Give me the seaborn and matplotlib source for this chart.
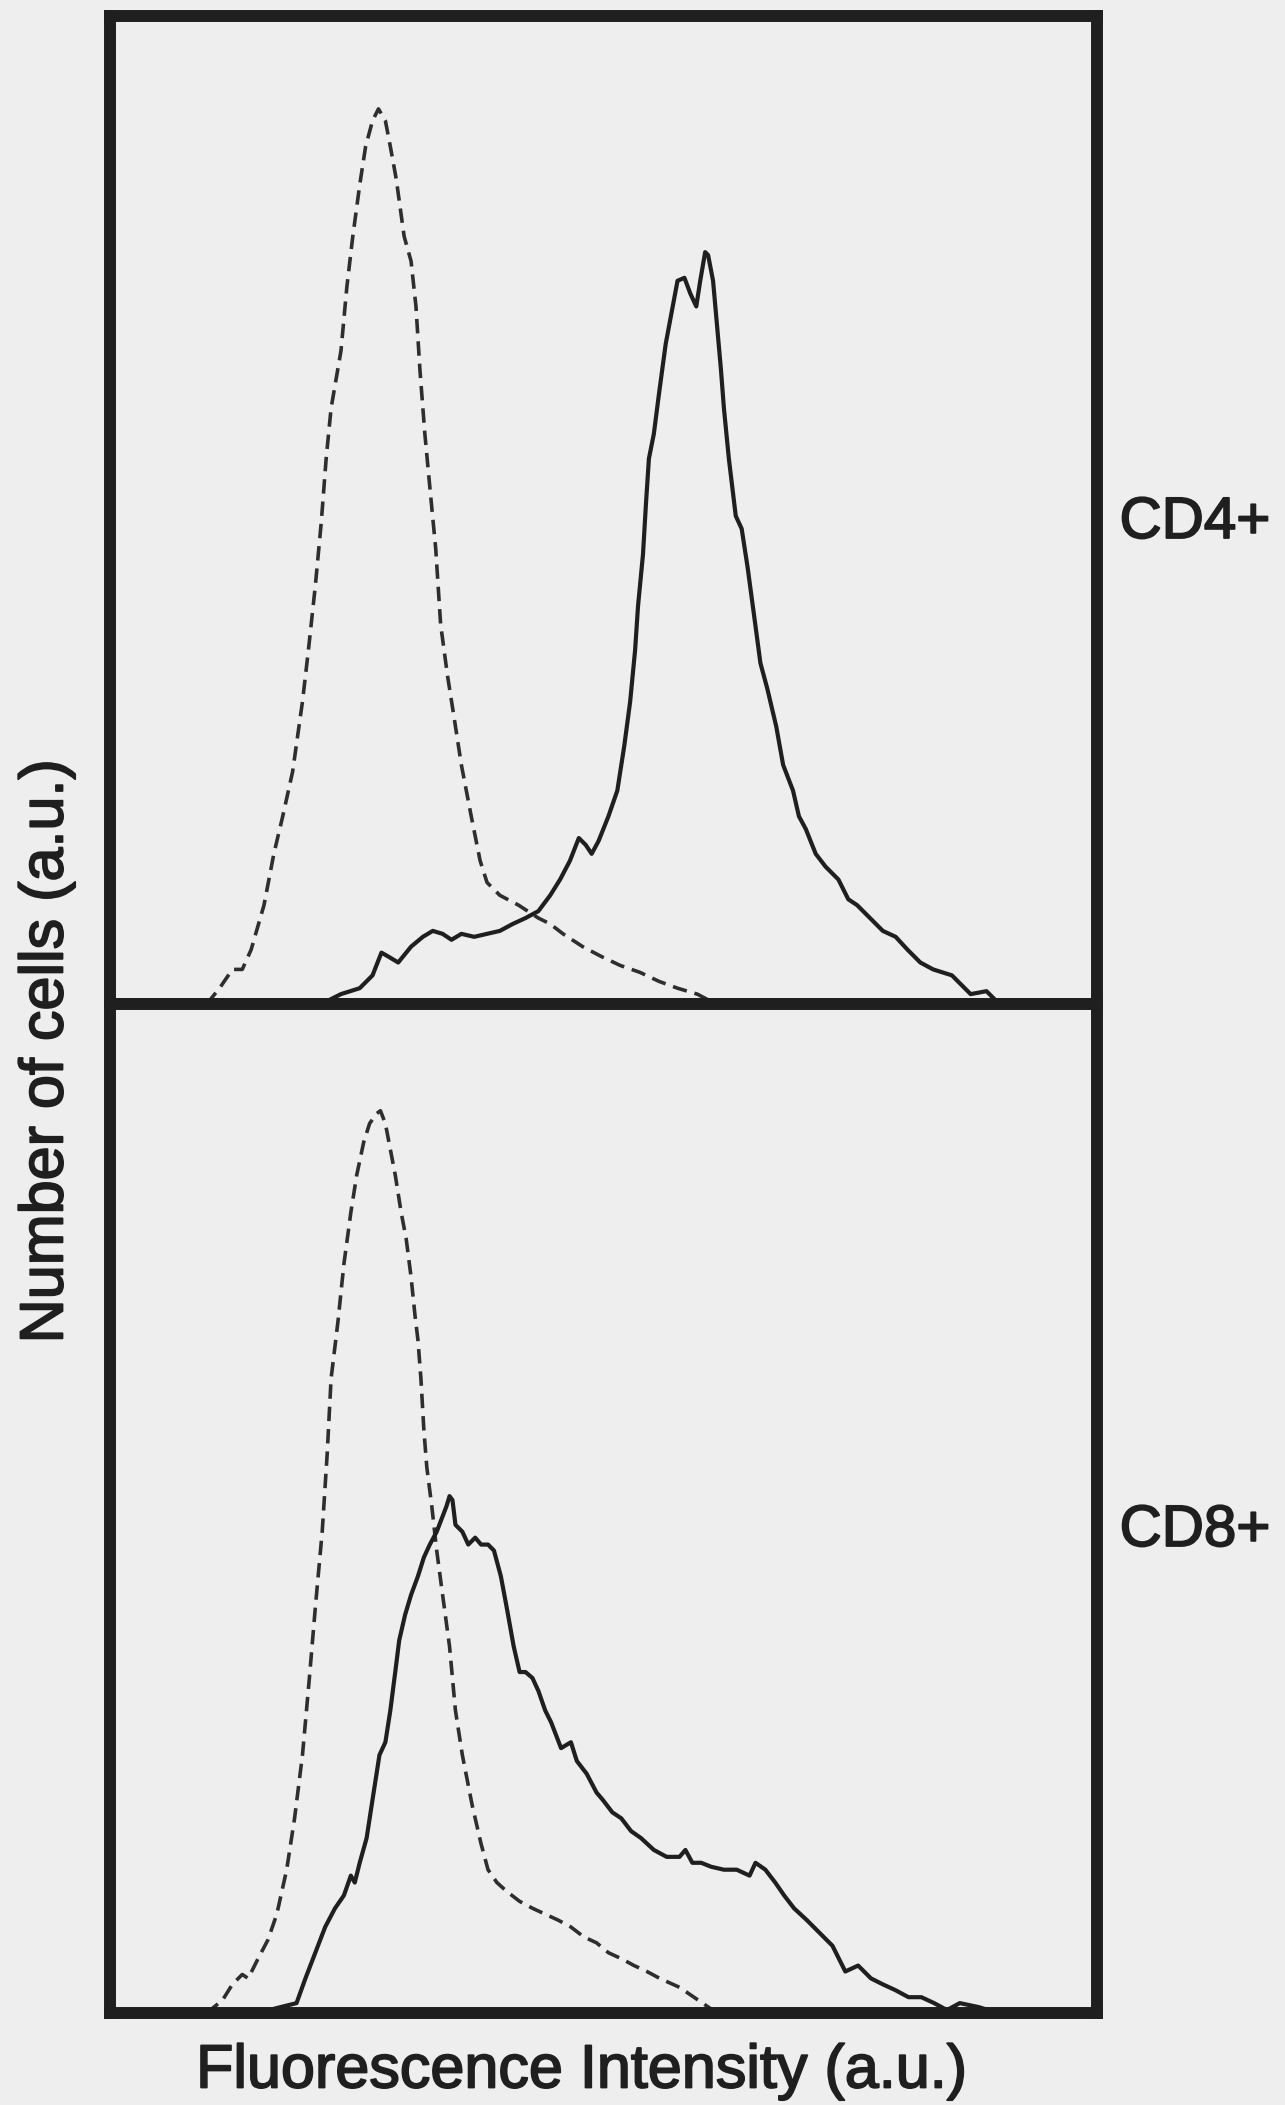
import numpy as np
import pandas as pd
import seaborn as sns
import matplotlib.pyplot as plt
import matplotlib.patheffects as pe

# fluorescence channel (0-1000) and cell counts
cd4_ctrl_x = [98, 111, 124, 134, 143, 156, 166, 175, 185, 195, 201, 208, 214, 219, 224, 234, 240, 246, 253, 259,
              266, 272, 279, 284, 290, 298, 305, 310, 314, 319, 325, 330, 335, 342, 348, 356, 366, 375, 382, 395,
              414, 434, 446, 459, 479, 498, 517, 537, 556, 575, 595, 614]
cd4_ctrl_y = [0, 16, 35, 35, 55, 100, 152, 190, 235, 306, 358, 423, 487, 552, 603, 661, 726, 777, 829, 868,
              894, 906, 894, 868, 835, 777, 752, 706, 642, 577, 513, 461, 384, 332, 294, 242, 190, 145, 123, 110,
              100, 87, 81, 71, 58, 48, 39, 32, 23, 16, 10, 0]

cd4_x = [214, 234, 253, 266, 275, 282, 292, 305, 317, 327, 337, 346, 356, 369, 382, 395, 408, 421, 434, 446,
         456, 466, 475, 482, 488, 495, 505, 514, 521, 527, 532, 535, 540, 543, 546, 551, 556, 563, 569, 575,
         582, 588, 594, 598, 603, 606, 611, 615, 619, 622, 627, 634, 640, 646, 653, 659, 666, 675, 682, 692,
         698, 705, 715, 725, 738, 748, 757, 770, 783, 796, 808, 821, 834, 853, 872, 888, 898, 911]
cd4_y = [0, 10, 16, 29, 52, 48, 42, 58, 68, 74, 71, 65, 71, 68, 71, 74, 81, 87, 94, 110,
         126, 145, 168, 161, 152, 165, 190, 216, 261, 306, 358, 403, 455, 506, 552, 577, 616, 668, 700, 732,
         735, 719, 706, 732, 761, 758, 732, 687, 642, 603, 552, 494, 481, 442, 390, 345, 319, 281, 242, 216,
         190, 177, 152, 139, 126, 106, 100, 87, 74, 68, 55, 42, 35, 29, 10, 13, 3, 0]

cd8_ctrl_x = [98, 114, 124, 134, 140, 150, 160, 169, 179, 187, 195, 202, 208, 215, 220, 224, 231, 237, 244, 250,
              257, 263, 270, 274, 279, 284, 289, 295, 300, 305, 309, 312, 315, 318, 321, 326, 331, 337, 344, 350,
              357, 367, 376, 383, 392, 402, 415, 428, 441, 454, 467, 480, 493, 505, 518, 531, 544, 557, 577, 596, 615]
cd8_ctrl_y = [0, 13, 29, 39, 35, 55, 74, 100, 145, 197, 261, 339, 410, 487, 565, 642, 700, 758, 810, 848,
              881, 900, 910, 913, 900, 874, 848, 810, 784, 745, 706, 681, 642, 590, 552, 513, 468, 423, 371, 306,
              261, 210, 171, 145, 132, 123, 113, 106, 100, 94, 87, 77, 71, 61, 55, 48, 42, 35, 26, 13, 0]

cd8_x = [150, 169, 189, 198, 208, 218, 228, 237, 244, 248, 253, 260, 266, 273, 279, 284, 289, 293, 299, 305,
         312, 318, 324, 331, 336, 341, 344, 347, 350, 357, 363, 370, 376, 383, 389, 396, 402, 409, 415, 421,
         428, 434, 441, 447, 457, 467, 473, 483, 493, 499, 509, 518, 528, 538, 551, 564, 577, 583, 590, 599,
         609, 622, 635, 648, 654, 664, 674, 683, 693, 706, 719, 732, 745, 758, 771, 783, 796, 809, 822, 835,
         848, 861, 880, 900]
cd8_y = [0, 5, 10, 35, 61, 87, 106, 119, 139, 132, 152, 177, 216, 261, 274, 306, 345, 377, 403, 423,
         442, 461, 474, 487, 500, 513, 523, 519, 494, 487, 474, 481, 474, 474, 468, 442, 410, 371, 345, 345,
         339, 326, 306, 294, 268, 274, 255, 242, 223, 216, 203, 197, 184, 177, 165, 158, 158, 165, 152, 152,
         148, 145, 145, 139, 152, 145, 132, 119, 106, 94, 81, 68, 42, 48, 35, 29, 23, 16, 16, 10,
         3, 10, 6, 0]

panels = ["CD4+", "CD8+"]
ink = "#1f1f1f"
paper = "#eeeeee"

sns.set_style("white")
plt.rcParams["font.family"] = ["Liberation Sans", "DejaVu Sans"]

W, H = 1285, 2105
fig = plt.figure(figsize=(W / 100, H / 100), dpi=100, facecolor=paper)

left, right = 110, 1097
rows = [(16, 1004, 1000), (1004, 2013, 1021)]
curves = [(cd4_ctrl_x, cd4_ctrl_y, cd4_x, cd4_y), (cd8_ctrl_x, cd8_ctrl_y, cd8_x, cd8_y)]

for (top, bot, ymax), (cx, cy, sx, sy), name in zip(rows, curves, panels):
    ax = fig.add_axes([left / W, 1 - bot / H, (right - left) / W, (bot - top) / H])
    ax.set_facecolor(paper)
    ctrl = pd.DataFrame({"channel": cx, "count": cy})
    stain = pd.DataFrame({"channel": sx, "count": sy})
    sns.lineplot(data=ctrl, x="channel", y="count", ax=ax, color="#2e2e2e",
                 linewidth=2.6, linestyle=(0, (4.0, 2.2)), sort=False)
    sns.lineplot(data=stain, x="channel", y="count", ax=ax, color=ink,
                 linewidth=3.0, sort=False)
    ax.set_xlim(0, 1000)
    ax.set_ylim(0, ymax)
    ax.set_xticks([])
    ax.set_yticks([])
    ax.set_xlabel("")
    ax.set_ylabel("")
    for sp in ax.spines.values():
        sp.set_visible(True)
        sp.set_linewidth(8.6)
        sp.set_color(ink)

heavy = [pe.withStroke(linewidth=1.3, foreground=ink)]
fig.text(1195 / W, 1 - 523 / H, "CD4+", fontsize=42, color=ink, ha="center", va="center",
         path_effects=heavy)
fig.text(1195 / W, 1 - 1531 / H, "CD8+", fontsize=42, color=ink, ha="center", va="center",
         path_effects=heavy)
fig.text(47 / W, 1 - 1051 / H, "Number of cells (a.u.)", fontsize=44, color=ink,
         rotation=90, ha="center", va="center", path_effects=heavy)
fig.text(582 / W, 1 - 2072 / H, "Fluorescence Intensity (a.u.)", fontsize=44, color=ink,
         ha="center", va="center", path_effects=heavy)

fig.savefig("out.png", dpi=100, facecolor=paper)
